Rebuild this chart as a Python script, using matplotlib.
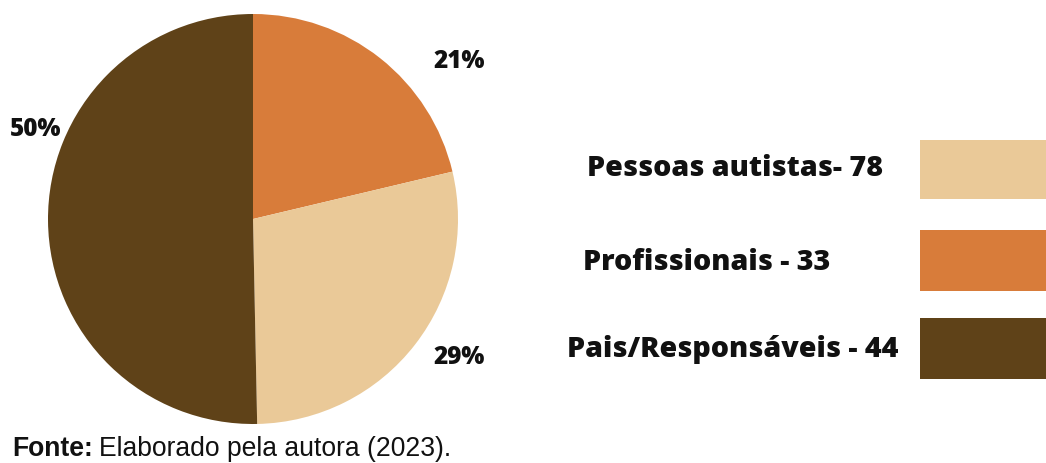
import matplotlib
matplotlib.use("Agg")
import matplotlib.pyplot as plt
from matplotlib.patches import Rectangle

# Data
slice_values = [33, 44, 78]
slice_colors = ["#D87C3A", "#EAC998", "#5F4218"]
slice_labels = ["21%", "29%", "50%"]
legend_labels = ["Pessoas autistas- 78", "Profissionais - 33", "Pais/Responsáveis - 44"]
legend_colors = ["#EAC998", "#D87C3A", "#5F4218"]

W, H = 1046, 463
fig = plt.figure(figsize=(W / 100, H / 100), dpi=100)
ax = fig.add_axes([0, 0, 1, 1])

ax.pie(slice_values, colors=slice_colors, startangle=90, counterclock=False,
       center=(253, H - 219), radius=205, frame=True,
       wedgeprops=dict(linewidth=0))
ax.set_xlim(0, W)
ax.set_ylim(0, H)
ax.set_aspect("equal")
ax.axis("off")

pfont = dict(family=["Open Sans", "DejaVu Sans"], weight="heavy", fontsize=17.5, color="#111111")
label_pos = [(459, 62), (459, 358), (36, 130)]
for lab, (x, y) in zip(slice_labels, label_pos):
    ax.text(x, H - y, lab, ha="center", va="center", **pfont)

lfont = dict(family=["Open Sans", "DejaVu Sans"], weight="heavy", fontsize=20.6, color="#111111")
text_pos = [(587, 168), (583, 262), (567, 349)]
box_y = [(140, 199), (230, 291), (318, 379)]
for lab, col, (tx, ty), (y0, y1) in zip(legend_labels, legend_colors, text_pos, box_y):
    ax.text(tx, H - ty, lab, ha="left", va="center", **lfont)
    ax.add_patch(Rectangle((920, H - y1), 130, y1 - y0, facecolor=col, edgecolor="none"))

ffont = dict(family=["Liberation Sans", "DejaVu Sans"], fontsize=19.1, color="#111111")
t = ax.text(12, H - 449, "Fonte:", ha="left", va="center", weight="bold", **ffont)
fig.canvas.draw()
bb = t.get_window_extent()
ax.text(bb.x1 + 6, H - 449, "Elaborado pela autora (2023).", ha="left", va="center", **ffont)

fig.savefig("out.png", dpi=100)
